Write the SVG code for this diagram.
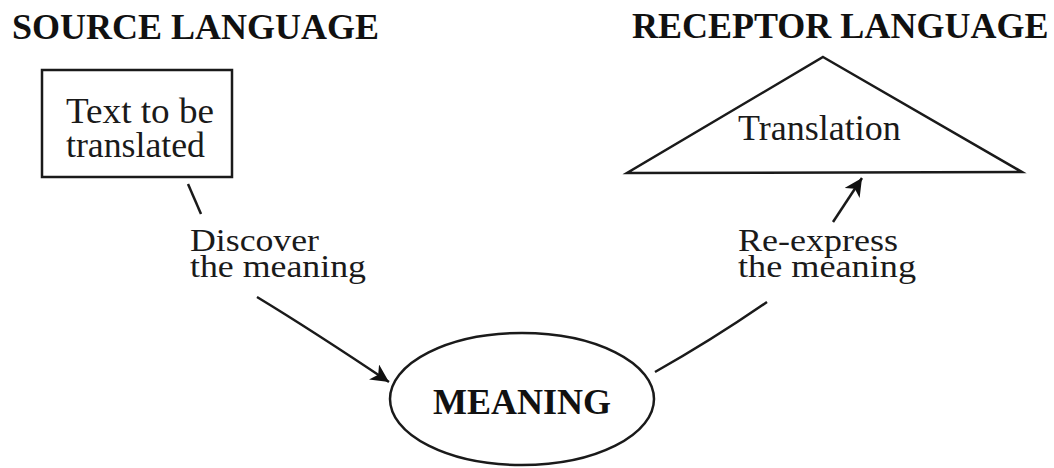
<svg xmlns="http://www.w3.org/2000/svg" width="1054" height="468" viewBox="0 0 1054 468">
<defs>
<style>
.title{font-family:"Liberation Serif","Times New Roman",serif;font-weight:bold;font-size:36px;fill:#111}
.lbl{font-family:"Liberation Serif","Times New Roman",serif;font-size:36px;fill:#1a1a1a}
.edge{font-family:"Liberation Serif","Times New Roman",serif;font-size:32px;fill:#1a1a1a}
.shape{fill:none;stroke:#1a1a1a;stroke-width:2.5}
.conn{fill:none;stroke:#1a1a1a;stroke-width:2.5}
</style>
<marker id="arrow" markerUnits="userSpaceOnUse" markerWidth="20" markerHeight="18" refX="18" refY="9" orient="auto">
<path d="M0,0 L18,9 L0,18 L5,9 Z" fill="#111"/>
</marker>
</defs>
<rect width="1054" height="468" fill="#fff"/>
<text class="title" x="12" y="39">SOURCE LANGUAGE</text>
<text class="title" x="632" y="38">RECEPTOR LANGUAGE</text>
<g id="source-text">
<rect class="shape" x="42" y="70" width="190" height="107"/>
<text class="lbl" x="66" y="123" font-size="34" textLength="148" lengthAdjust="spacingAndGlyphs">Text to be</text>
<text class="lbl" x="66" y="157" font-size="34" textLength="139" lengthAdjust="spacingAndGlyphs">translated</text>
</g>
<g id="meaning">
<ellipse class="shape" cx="522" cy="399" rx="132" ry="66" stroke-width="2"/>
<text class="title" x="522" y="414" text-anchor="middle">MEANING</text>
</g>
<g id="translation">
<polygon class="shape" points="823,57 1022,172 627,173"/>
<text class="lbl" x="738" y="140">Translation</text>
</g>
<g id="connectors">
<path class="conn" d="M188,184 L201,214"/>
<path class="conn" d="M257,297 Q313,331 389,382" marker-end="url(#arrow)"/>
<path class="conn" d="M655,372 Q712,340 767,302"/>
<path class="conn" d="M833,222 L862,178" marker-end="url(#arrow)"/>
</g>
<g id="labels">
<text class="edge" x="190" y="251" textLength="129" lengthAdjust="spacingAndGlyphs">Discover</text>
<text class="edge" x="190" y="277" textLength="176" lengthAdjust="spacingAndGlyphs">the meaning</text>
<text class="edge" x="738" y="251" textLength="160" lengthAdjust="spacingAndGlyphs">Re-express</text>
<text class="edge" x="738" y="277" textLength="178" lengthAdjust="spacingAndGlyphs">the meaning</text>
</g>
</svg>
